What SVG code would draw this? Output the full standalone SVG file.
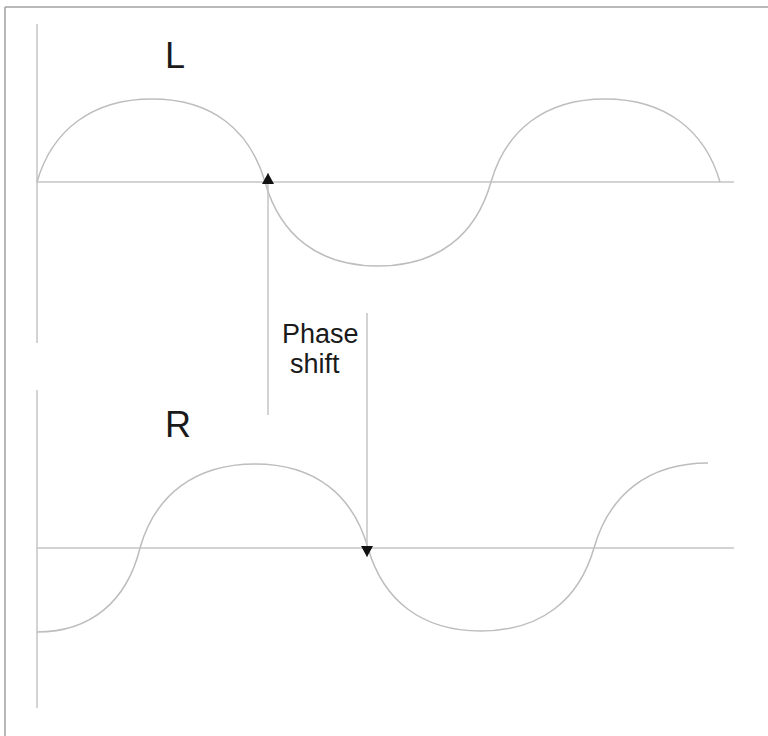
<svg xmlns="http://www.w3.org/2000/svg" width="768" height="736" viewBox="0 0 768 736">
<style>
.ln{stroke:#c4c4c4;stroke-width:1.5;fill:none}
.wave{stroke:#bdbdbd;stroke-width:1.5;fill:none}
.frame{stroke:#a0a0a0;stroke-width:1.5;fill:none}
.lbl{font-family:"Liberation Sans",Arial,sans-serif;fill:#1a1a1a}
</style>
<defs>
<marker id="ah" viewBox="0 0 11 12" refX="11" refY="6" markerWidth="11" markerHeight="12" markerUnits="userSpaceOnUse" orient="auto">
<path d="M0,0 L11,6 L0,12 Z" fill="#111"/>
</marker>
</defs>
<rect width="768" height="736" fill="#fff"/>
<g id="frame">
<line class="frame" x1="5" y1="7" x2="768" y2="7"/>
<line class="frame" x1="5" y1="7" x2="5" y2="736"/>
</g>
<g id="L-plot">
<line class="ln" x1="37" y1="24" x2="37" y2="343"/>
<line class="ln" x1="37" y1="182" x2="734" y2="182"/>
<path class="wave" d="M37,182 C52,130 92,99 152,99 C212,99 250,130 265,182 C280,235 318,266 378,266 C438,266 476,235 491,182 C506,130 545,99 605,99 C665,99 705,130 720,182"/>
<text class="lbl" x="165" y="68" font-size="36">L</text>
</g>
<g id="R-plot">
<line class="ln" x1="37" y1="390" x2="37" y2="708"/>
<line class="ln" x1="37" y1="548" x2="734" y2="548"/>
<path class="wave" d="M37,632 C91,632 127,601 140,548 C155,495 195,464 255,464 C315,464 353,495 368,548 C383,600 421,631 481,631 C541,631 579,600 594,548 C609,495 648,463 708,463"/>
<text class="lbl" x="165" y="437" font-size="36">R</text>
</g>
<g id="connectors">
<line class="ln" x1="268" y1="415" x2="268" y2="173" marker-end="url(#ah)"/>
<line class="ln" x1="367" y1="313" x2="367" y2="557" marker-end="url(#ah)"/>
</g>
<g id="phase-label">
<text class="lbl" x="282" y="343" font-size="27">Phase</text>
<text class="lbl" x="290" y="373" font-size="27">shift</text>
</g>
</svg>
